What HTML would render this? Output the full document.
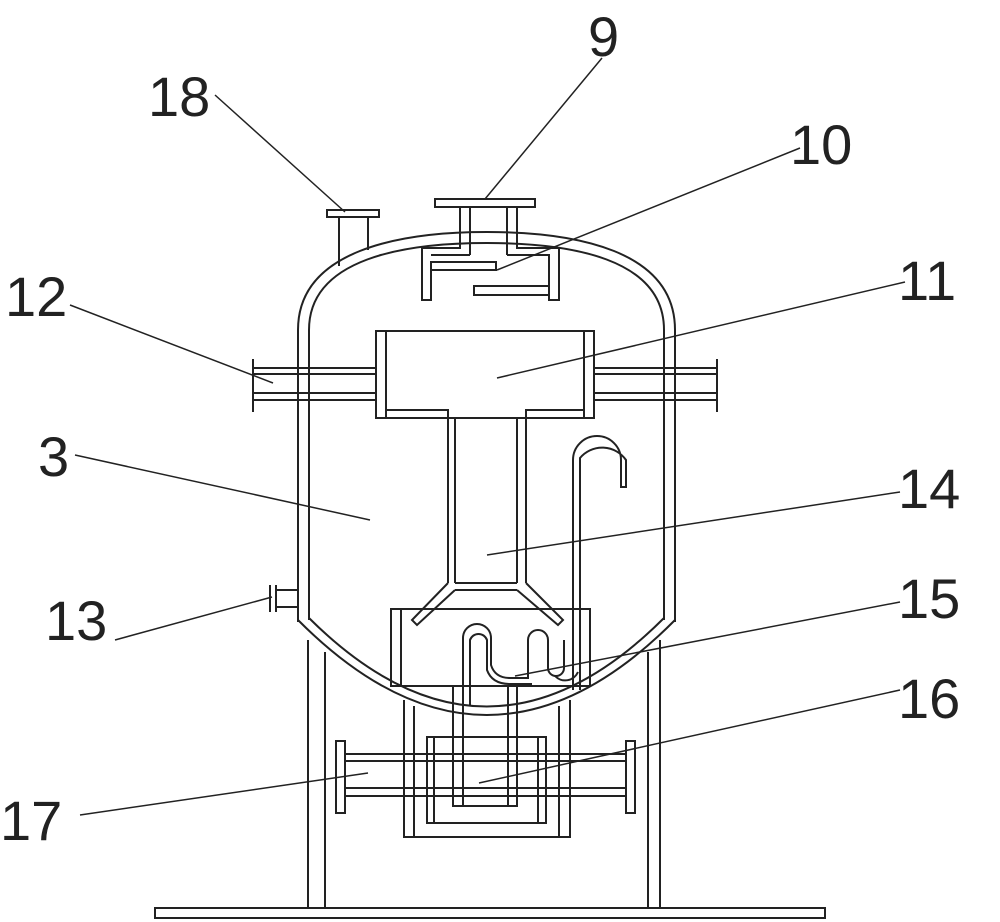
<!DOCTYPE html>
<html><head><style>html,body{margin:0;padding:0;background:#fff}svg{display:block}</style></head>
<body>
<svg width="1000" height="922" viewBox="0 0 1000 922" xmlns="http://www.w3.org/2000/svg" fill="none" stroke="#222" stroke-width="2">
<!-- vessel -->
<path d="M298,622 V330 C298,250 400,232 487,232 C575,232 675,250 675,330 V622"/>
<path d="M309,620 V330 C309,258 405,243 487,243 C570,243 664,258 664,330 V620"/>
<path d="M298,620 Q487,810 675,620"/>
<path d="M309,618 Q487,795 664,618"/>
<!-- legs -->
<line x1="308" y1="640" x2="308" y2="908"/><line x1="325" y1="652" x2="325" y2="908"/>
<line x1="648" y1="652" x2="648" y2="908"/><line x1="660" y1="640" x2="660" y2="908"/>
<rect x="155" y="908" width="670" height="10"/>
<!-- nozzle 18 -->
<rect x="327" y="210" width="52" height="7"/>
<line x1="339" y1="217" x2="339" y2="266"/><line x1="368" y1="217" x2="368" y2="250"/>
<!-- nozzle 9 -->
<rect x="435" y="199" width="100" height="8"/>
<path d="M460,207 V248 H422 V300 H431 V262 H496 V270 H431"/>
<path d="M470,207 V255"/>
<path d="M507,207 V255"/>
<path d="M517,207 V248 H559 V300 H549 V286 H474 V295 H549"/>
<path d="M470,255 H431"/><path d="M507,255 H549 V286"/>
<!-- T part 11 -->
<rect x="376" y="331" width="218" height="87"/>
<path d="M386,331 V418 M584,331 V418"/>
<path d="M386,410 H448 V583 M584,410 H526 V583"/>
<path d="M455,418 V583 M517,418 V583"/>
<path d="M455,583 H517 M455,590 H517"/>
<path d="M448,583 L412,620 L417,625 L455,590 M526,583 L563,620 L558,625 L517,590"/>
<!-- pipes 12 -->
<path d="M253,368 H376 M253,374 H376 M253,393 H376 M253,400 H376"/>
<path d="M594,368 H717 M594,374 H717 M594,393 H717 M594,400 H717"/>
<path d="M253,359 V412 M717,359 V412"/>
<!-- nozzle 13 -->
<path d="M270,585 V612 M276,585 V612 M276,590 H298 M276,607 H298"/>
<!-- J tube -->
<path d="M573,690 V460 A24,24 0 0 1 621,460 V487 H626 V460 A29,29 0 0 0 580,458 V690"/>
<!-- box 15 -->
<rect x="391" y="609" width="199" height="77"/>
<line x1="401" y1="609" x2="401" y2="686"/>
<!-- U tube serpentine -->
<path d="M463,706 V638 A14,14 0 0 1 491,638 V665 Q495,678 510,678 H528 V640 A10,10 0 0 1 548,640 V668 A8,8 0 0 0 564,668 V640"/>
<path d="M470,706 V640 A9,9 0 0 1 487,640 V670 Q492,684 510,684 H532 M555,676 A14,14 0 0 0 578,672"/>
<!-- lower housing -->
<path d="M404,700 V837 H570 V700 M414,706 V837 M559,706 V837"/>
<path d="M453,686 V806 H517 V686 M463,686 V806 M508,686 V806"/>
<rect x="427" y="737" width="119" height="86"/>
<path d="M434,737 V823 M538,737 V823 M463,737 H508"/>
<!-- pipe 17 -->
<path d="M345,754 H627 M345,761 H627 M345,788 H627 M345,796 H627"/>
<rect x="336" y="741" width="9" height="72"/>
<rect x="626" y="741" width="9" height="72"/>
<!-- leaders -->
<g stroke-width="1.5">
<line x1="215" y1="95" x2="345" y2="212"/>
<line x1="602" y1="58" x2="485" y2="199"/>
<line x1="800" y1="148" x2="497" y2="270"/>
<line x1="905" y1="282" x2="497" y2="378"/>
<line x1="70" y1="305" x2="273" y2="383"/>
<line x1="75" y1="455" x2="370" y2="520"/>
<line x1="900" y1="492" x2="487" y2="555"/>
<line x1="115" y1="640" x2="272" y2="597"/>
<line x1="900" y1="602" x2="515" y2="676"/>
<line x1="900" y1="690" x2="479" y2="783"/>
<line x1="80" y1="815" x2="368" y2="773"/>
</g>
<g fill="#222" stroke="none" font-family="Liberation Sans, sans-serif" font-size="56">
<text x="148" y="116">18</text>
<text x="588" y="56">9</text>
<text x="790" y="164">10</text>
<text x="898" y="300">11</text>
<text x="5" y="316">12</text>
<text x="38" y="476">3</text>
<text x="898" y="508">14</text>
<text x="45" y="640">13</text>
<text x="898" y="618">15</text>
<text x="898" y="718">16</text>
<text x="0" y="840">17</text>
</g>
</svg>
</body></html>
